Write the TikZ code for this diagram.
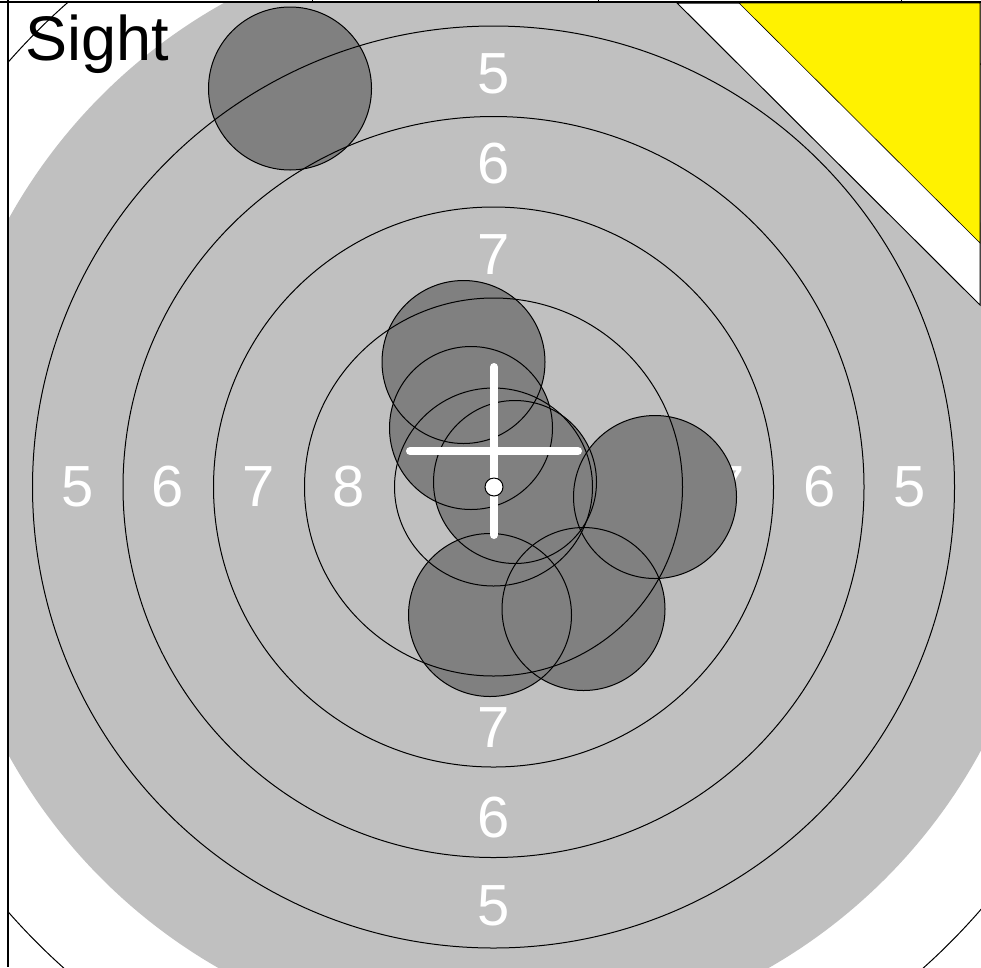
\documentclass[tikz,border=0pt]{standalone}
\usepackage{fontspec}
\setmainfont{Liberation Sans}
\definecolor{ringgray}{RGB}{192,192,192}
\definecolor{shotgray}{RGB}{128,128,128}
\begin{document}
\begin{tikzpicture}[x=1pt,y=-1pt,
  lbl/.style={text=white, font=\fontsize{58}{60}\selectfont, inner sep=0pt},
  ringline/.style={draw=black, line width=1pt},
  shotline/.style={draw=black, line width=1pt},
  cross/.style={draw=white, line width=8pt, line cap=round},
  framing/.style={draw=black, line width=1.5pt}]
\useasboundingbox (0,0) rectangle (981,967);
\coordinate (C) at (493.5,487);
\begin{scope}
  \clip (8,2) rectangle (981,967);
  \fill[ringgray] (C) circle[radius=554pt];
  \draw[ringline] (C) circle[radius=645pt];
  % labels
  \node[lbl] (l5) at (78,487) {5};
  \node[lbl] (l6) at (168,487) {6};
  \node[lbl] (l7) at (259,487) {7};
  \node[lbl] (l8) at (349,487) {8};
  \node[lbl] (r8) at (638,487) {8};
  \node[lbl] (r7) at (729,487) {7};
  \node[lbl] (r6) at (820,487) {6};
  \node[lbl] (r5) at (910,487) {5};
  \node[lbl] (t5) at (493.5,74) {5};
  \node[lbl] (t6) at (493.5,164) {6};
  \node[lbl] (t7) at (493.5,255) {7};
  \node[lbl] (t8) at (493.5,345) {8};
  \node[lbl] (b8) at (493.5,630) {8};
  \node[lbl] (b7) at (493.5,728) {7};
  \node[lbl] (b6) at (493.5,818) {6};
  \node[lbl] (b5) at (493.5,906) {5};
  % shots
  \coordinate (s1) at (290,88.5);
  \coordinate (s2) at (463.5,362);
  \coordinate (s3) at (471,428);
  \coordinate (s4) at (515,482);
  \coordinate (s5) at (655,497);
  \coordinate (s6) at (490,615);
  \coordinate (s7) at (583.5,609);
  \foreach \s in {s1,s2,s3,s4,s5,s6,s7}
    \fill[shotgray] (\s) circle[radius=81.5pt];
  % rings
  \foreach \r in {99,189,280,370.5,461}
    \draw[ringline] (C) circle[radius=\r pt];
  \foreach \s in {s1,s2,s3,s4,s5,s6,s7}
    \draw[shotline] (\s) circle[radius=81.5pt];
\end{scope}
% corner
\filldraw[fill=white, draw=black, line width=1pt] (677,3) -- (980,3) -- (980,305) -- cycle;
\filldraw[fill=yellow, draw=black, line width=0.6pt] (739,3) -- (980,3) -- (980,243) -- cycle;
% crosshair
\coordinate (X) at (494,451);
\draw[cross] ([xshift=-84pt]X) -- ([xshift=84pt]X);
\draw[cross] ([yshift=84pt]X) -- ([yshift=-84pt]X);
\filldraw[fill=white, draw=black, line width=1pt] (494,487) circle[radius=9pt];
% title
\node[anchor=base west, inner sep=0pt, font=\fontsize{63}{66}\selectfont] (title) at (25,60) {Sight};
% frame
\draw[framing] (0,2) -- (981,2);
\draw[framing] (8,0) -- (8,967);
\foreach \x in {312,598,901}
  \draw[line width=1pt] (\x,0) -- (\x,3);
\end{tikzpicture}
\end{document}
